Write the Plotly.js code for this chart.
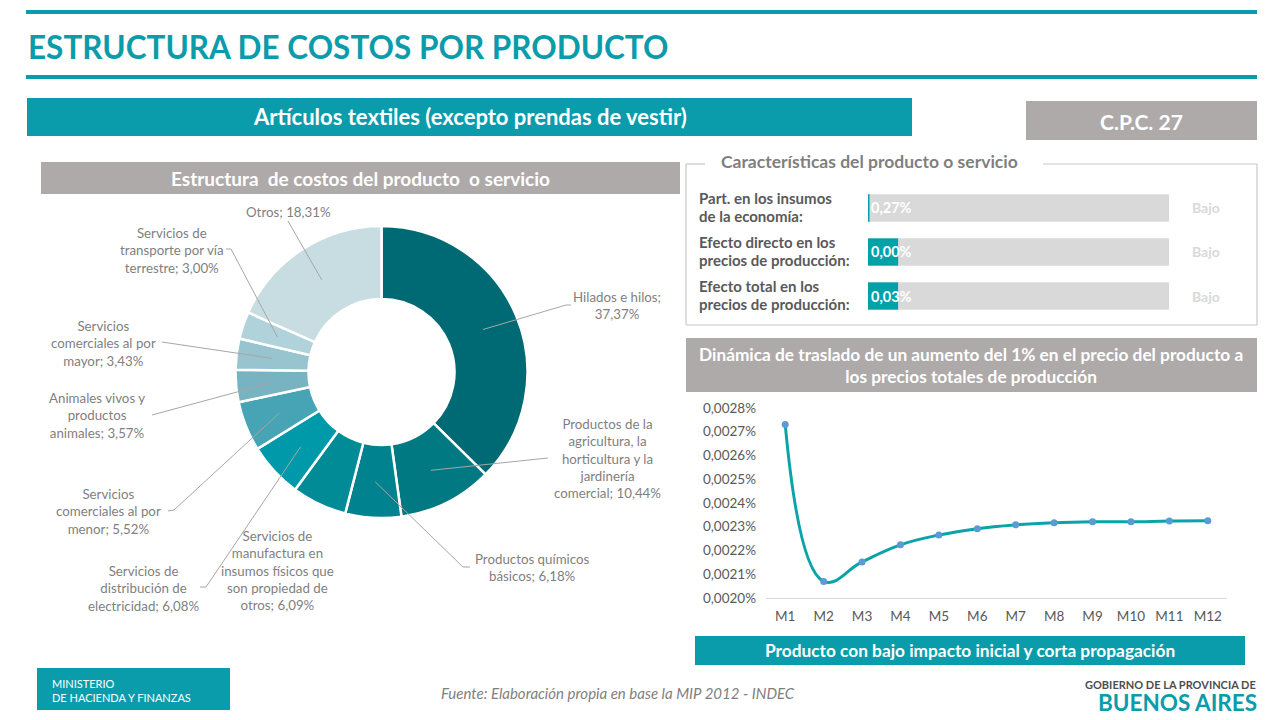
<!DOCTYPE html>
<html>
<head>
<meta charset="utf-8">
<script src="https://cdn.plot.ly/plotly-3.0.1.min.js"></script>
<style>
html,body{margin:0;padding:0;background:#fff;}
#chart{width:1280px;height:720px;}
</style>
</head>
<body>
<div id="chart"></div>
<script>
// ---------------- DATA ----------------
var pieLabels = [
  'Hilados e hilos',
  'Productos de la agricultura, la horticultura y la jardinería comercial',
  'Productos químicos básicos',
  'Servicios de manufactura en insumos físicos que son propiedad de otros',
  'Servicios de distribución de electricidad',
  'Servicios comerciales al por menor',
  'Animales vivos y productos animales',
  'Servicios comerciales al por mayor',
  'Servicios de transporte por vía terrestre',
  'Otros'
];
var pieValues = [37.37, 10.44, 6.18, 6.09, 6.08, 5.52, 3.57, 3.43, 3.00, 18.31];
var pieWrapped = [
  'Hilados e hilos;<br>{v}',
  'Productos de la<br>agricultura, la<br>horticultura y la<br>jardinería<br>comercial; {v}',
  'Productos químicos<br>básicos; {v}',
  'Servicios de<br>manufactura en<br>insumos físicos que<br>son propiedad de<br>otros; {v}',
  'Servicios de<br>distribución de<br>electricidad; {v}',
  'Servicios<br>comerciales al por<br>menor; {v}',
  'Animales vivos y<br>productos<br>animales; {v}',
  'Servicios<br>comerciales al por<br>mayor; {v}',
  'Servicios de<br>transporte por vía<br>terrestre; {v}',
  'Otros; {v}'
];

var barCats = ['Part. en los insumos de la economía', 'Efecto directo en los precios de producción', 'Efecto total en los precios de producción'];
var barCatLine1 = ['Part. en los insumos', 'Efecto directo en los', 'Efecto total en los'];
var barCatLine2 = ['de la economía:', 'precios de producción:', 'precios de producción:'];
var barValues = [0.27, 0.00, 0.03];
var barFill = [0.005, 0.10, 0.10];
var barFull = [1, 1, 1];
var barLevel = ['Bajo', 'Bajo', 'Bajo'];

var months = ['M1','M2','M3','M4','M5','M6','M7','M8','M9','M10','M11','M12'];
var dynValues = [0.002731, 0.002070, 0.002152, 0.002224, 0.002265, 0.002292, 0.002308, 0.002317, 0.002321, 0.002321, 0.002324, 0.002325];

// ---------------- STYLE / LAYOUT HELPERS ----------------
var W = 1280, H = 720;
function px(x){ return x / W; }
function py(y){ return 1 - y / H; }
var TEAL = '#0a9cab';
var GREYBOX = '#aeaaaa';
var FONT = 'Lato, "Open Sans", sans-serif';
var pieColors = ['#006a74','#007983','#00838e','#008b97','#0099a9','#46a4b4','#77b3c0','#98c4cf','#b0d2da','#c8dde2'];

function fmt(v){ return v.toFixed(2).replace('.', ',') + '%'; }

var shapes = [];
var annotations = [];
function rect(x0,y0,x1,y1,color){
  shapes.push({type:'rect', xref:'paper', yref:'paper', x0:px(x0), x1:px(x1), y0:py(y1), y1:py(y0), fillcolor:color, line:{width:0}, layer:'below'});
}
function seg(x0,y0,x1,y1,color,w){
  shapes.push({type:'line', xref:'paper', yref:'paper', x0:px(x0), x1:px(x1), y0:py(y0), y1:py(y1), line:{color:color, width:w||1}});
}
function txt(x,y,text,size,color,opts){
  opts = opts || {};
  annotations.push({xref:'paper', yref:'paper', x:px(x), y:py(y), text:text, showarrow:false,
    xanchor:opts.xanchor||'center', yanchor:opts.yanchor||'middle', align:opts.align||'center',
    font:{family:opts.family||FONT, size:size, color:color, weight:opts.weight||'normal', style:opts.style||'normal'}});
}

// header
rect(26,10,1257,14,TEAL);
rect(26,75,1257,79,TEAL);
txt(26,47,'ESTRUCTURA DE COSTOS POR PRODUCTO',31.5,TEAL,{xanchor:'left',weight:'bold'});
rect(27,98,912,136,TEAL);
txt(470,117,'Artículos textiles (excepto prendas de vestir)',22,'#ffffff',{weight:'bold'});
rect(1026,101,1257,140,GREYBOX);
txt(1141,121,'C.P.C. 27',21,'#ffffff',{weight:'bold'});
rect(41,162,680,194,GREYBOX);
txt(360,178,'Estructura  de costos del producto  o servicio',19,'#ffffff',{weight:'bold'});

// characteristics box
var BC = '#c8c8c8';
seg(686,164,705,164,BC,1.2);
seg(1043,164,1257,164,BC,1.2);
seg(1257,164,1257,325,BC,1.2);
seg(686,325,1257,325,BC,1.2);
seg(686,164,686,325,BC,1.2);
txt(869,162,'Características del producto o servicio',17.5,'#7f7f7f',{weight:'bold'});

// dynamics header
rect(686,338,1257,392,GREYBOX);
txt(971,365,'Dinámica de traslado de un aumento del 1% en el precio del producto a<br>los precios totales de producción',17.3,'#ffffff',{weight:'bold'});

// bottom banner
rect(695,636,1245,665,TEAL);
txt(970,650,'Producto con bajo impacto inicial y corta propagación',17.3,'#ffffff',{weight:'bold'});

// footer
rect(37,668,230,710,TEAL);
txt(50,690,'MINISTERIO<br>DE HACIENDA Y FINANZAS',11,'#ffffff',{xanchor:'left',align:'left'});
txt(618,693,'Fuente: Elaboración propia en base la MIP 2012 - INDEC',15,'#7f7f7f',{style:'italic'});
txt(1258,684,'GOBIERNO DE LA PROVINCIA DE',11,'#4d4d4d',{xanchor:'right',weight:'bold'});
txt(1259,702,'BUENOS AIRES',22.5,TEAL,{xanchor:'right',weight:'bold'});

// ---------------- PIE LABELS + LEADERS ----------------
var cx = 381.5, cy = 372, R = 146, rA = 110;
var labelPos = [[617,305],[607,459],[532,567],[277,570],[143,588],[108,511],[97,416],[103,343],[172,250],[288,212]];
var leaderEnds = [
  [[571,305],[566,305]],
  [[548,458]],
  [[470,567],[463,567]],
  null,
  [[200,587],[206,587]],
  [[168,511],[174,510]],
  [[152,415]],
  [[162,342]],
  [[226,249],[231,249]],
  [[288,221]]
];
var total = pieValues.reduce(function(a,b){return a+b;},0);
var cum = 0;
for (var i = 0; i < pieValues.length; i++){
  var mid = (cum + pieValues[i]/2) / total * 2 * Math.PI;
  cum += pieValues[i];
  var ax = cx + rA * Math.sin(mid), ay = cy - rA * Math.cos(mid);
  txt(labelPos[i][0], labelPos[i][1], pieWrapped[i].replace('{v}', fmt(pieValues[i])), 13.3, '#7f7f7f');
  if (leaderEnds[i]){
    var pts = leaderEnds[i].concat([[ax, ay]]);
    var path = 'M ' + px(pts[0][0]) + ' ' + py(pts[0][1]);
    for (var k = 1; k < pts.length; k++) path += ' L ' + px(pts[k][0]) + ' ' + py(pts[k][1]);
    shapes.push({type:'path', xref:'paper', yref:'paper', path:path, line:{color:'#a6a6a6', width:1}});
  }
}

// ---------------- BAR PANEL LABELS ----------------
for (var j = 0; j < barCats.length; j++){
  annotations.push({xref:'paper', yref:'y', x:px(697), y:barCats[j], yshift:10, text:barCatLine1[j], showarrow:false,
    xanchor:'left', yanchor:'middle', align:'left', font:{family:FONT, size:15, color:'#595959', weight:'bold'}});
  annotations.push({xref:'paper', yref:'y', x:px(697), y:barCats[j], yshift:-8, text:barCatLine2[j], showarrow:false,
    xanchor:'left', yanchor:'middle', align:'left', font:{family:FONT, size:15, color:'#595959', weight:'bold'}});
  annotations.push({xref:'x', yref:'y', x:0.003, y:barCats[j], text:fmt(barValues[j]), showarrow:false,
    xanchor:'left', yanchor:'middle', font:{family:FONT, size:14.5, color:'#ffffff', weight:'bold'}});
  annotations.push({xref:'paper', yref:'y', x:px(1206), y:barCats[j], text:barLevel[j], showarrow:false,
    xanchor:'center', yanchor:'middle', font:{family:FONT, size:14, color:'#d9d9d9', weight:'bold'}});
}

// ---------------- TRACES ----------------
var traces = [
  {type:'pie', values:pieValues, labels:pieLabels, sort:false, direction:'clockwise', rotation:0,
   hole:0.5, textinfo:'none', hoverinfo:'label+percent', showlegend:false,
   marker:{colors:pieColors, line:{color:'#ffffff', width:2.5}},
   domain:{x:[px(cx-R), px(cx+R)], y:[py(cy+R), py(cy-R)]}},
  {type:'bar', orientation:'h', x:barFull, y:barCats, xaxis:'x', yaxis:'y',
   marker:{color:'#d9d9d9'}, hoverinfo:'none', showlegend:false},
  {type:'bar', orientation:'h', x:barFill, y:barCats, xaxis:'x', yaxis:'y',
   marker:{color:'#00a2a8'}, hoverinfo:'none', showlegend:false},
  {type:'scatter', mode:'lines+markers', x:months, y:dynValues, xaxis:'x2', yaxis:'y2',
   line:{color:'#0aa3a8', width:3, shape:'spline', smoothing:1.2},
   marker:{color:'#5b9bd5', size:7}, cliponaxis:false, showlegend:false}
];

var layout = {
  width:W, height:H, margin:{l:0,r:0,t:0,b:0},
  paper_bgcolor:'#ffffff', plot_bgcolor:'rgba(0,0,0,0)',
  separators:',.',
  font:{family:FONT},
  barmode:'overlay', bargap:0.38,
  showlegend:false,
  xaxis:{domain:[px(868), px(1169)], range:[0,1], visible:false, fixedrange:true},
  yaxis:{domain:[py(318), py(186)], type:'category', autorange:'reversed', visible:false, anchor:'x'},
  xaxis2:{domain:[px(766), px(1227)], anchor:'y2', type:'category', range:[-0.5, 11.5], showgrid:false, zeroline:false,
    showline:true, linecolor:'#d9d9d9', linewidth:1, ticks:'', ticklabelstandoff:6,
    tickfont:{family:FONT, size:13.5, color:'#595959'}},
  yaxis2:{domain:[py(598), py(408)], anchor:'x2', range:[0.002, 0.0028], dtick:0.0001, tick0:0.002,
    tickformat:'.4f', ticksuffix:'%', showgrid:false, zeroline:false, showline:false, ticks:'',
    ticklabelstandoff:9, tickfont:{family:FONT, size:13.5, color:'#595959'}},
  shapes:shapes,
  annotations:annotations
};

Plotly.newPlot('chart', traces, layout, {displayModeBar:false, staticPlot:true});
</script>
</body>
</html>
